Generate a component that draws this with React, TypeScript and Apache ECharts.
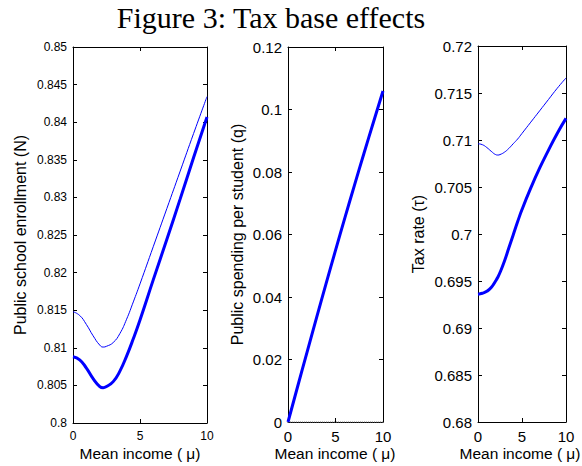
import React, { useEffect, useRef } from "react";
import * as echarts from "echarts";

// ---- data ----
const muPts = [0, 0.5, 1, 1.5, 2, 2.25, 2.5, 3, 3.5, 4, 4.5, 5, 6, 7, 8, 9, 10];
const enrollThin = [0.8148, 0.8143, 0.8131, 0.8116, 0.81035, 0.8101, 0.8102, 0.8107, 0.8119, 0.8138, 0.8161, 0.8185, 0.8235, 0.8285, 0.8335, 0.8385, 0.8434];
const enrollThick = [0.8088, 0.8084, 0.8073, 0.8059, 0.80485, 0.8047, 0.80485, 0.8055, 0.8069, 0.8089, 0.8112, 0.8137, 0.8191, 0.8244, 0.8298, 0.8353, 0.8407];
const taxThin = [0.7096, 0.7095, 0.7092, 0.7088, 0.70845, 0.7084, 0.70845, 0.7087, 0.7091, 0.7096, 0.7101, 0.7107, 0.7119, 0.7131, 0.7143, 0.7155, 0.7166];
const taxThick = [0.6936, 0.6937, 0.6939, 0.6943, 0.695, 0.6954, 0.6959, 0.6971, 0.6985, 0.6999, 0.7013, 0.7026, 0.7049, 0.707, 0.7089, 0.7107, 0.7123];
const muQ = [0, 1, 2, 3, 4, 5, 6, 7, 8, 9, 10];
const spendThick = [0, 0.0112, 0.0223, 0.0333, 0.0442, 0.0549, 0.0655, 0.0758, 0.086, 0.096, 0.1059];
const spendThin = [0, 0, 0, 0, 0, 0, 0, 0, 0, 0, 0];

const xTicks = { min: 0, max: 10, interval: 5 };
const yRanges = [
  { min: 0.8, max: 0.85, interval: 0.005 },
  { min: 0, max: 0.12, interval: 0.02 },
  { min: 0.68, max: 0.72, interval: 0.005 },
];

const title = "Figure 3: Tax base effects";
const xName = "Mean income ( \u03bc)";
const yNames = ["Public school enrollment (N)", "Public spending per student (q)", "Tax rate (\u03c4)"];

const grids = [
  { left: 73, top: 47, width: 134, height: 376 },
  { left: 288, top: 47, width: 95, height: 375 },
  { left: 478, top: 46, width: 88, height: 376 },
];
const tickFont = [12, 15, 15];
const yNameX = [20, 237, 418];
const xNameX = [140, 335, 520];

const pairs = (xs: number[], ys: number[]) => xs.map((x, i) => [x, ys[i]]);
const fmt = (v: number) => String(+v.toFixed(4));

export default function App() {
  const ref = useRef<HTMLDivElement>(null);
  useEffect(() => {
    if (!ref.current) return;
    const chart = echarts.init(ref.current, undefined, { renderer: "svg" });
    const FONT = "Liberation Sans, Arial, sans-serif";
    const xAxis: any[] = [];
    const yAxis: any[] = [];
    grids.forEach((g, i) => {
      const fs = tickFont[i];
      const common = {
        axisLine: { show: true, onZero: false, lineStyle: { color: "#000", width: 1 } },
        axisTick: { show: true, inside: true, length: 4, lineStyle: { color: "#000" } },
        splitLine: { show: false },
      };
      xAxis.push({
        type: "value", gridIndex: i, ...xTicks, position: "bottom", ...common,
        axisLabel: { show: true, color: "#000", fontSize: fs, fontFamily: FONT, margin: 7, formatter: fmt },
      });
      xAxis.push({
        type: "value", gridIndex: i, ...xTicks, position: "top", ...common,
        axisLabel: { show: false },
      });
      yAxis.push({
        type: "value", gridIndex: i, ...yRanges[i], position: "left", ...common,
        axisLabel: { show: true, color: "#000", fontSize: fs, fontFamily: FONT, margin: 6, formatter: fmt },
      });
      yAxis.push({
        type: "value", gridIndex: i, ...yRanges[i], position: "right", ...common,
        axisLabel: { show: false },
      });
    });
    const line = (gi: number, data: number[][], width: number, extra: any = {}) => ({
      type: "line", xAxisIndex: gi * 2, yAxisIndex: gi * 2, data,
      showSymbol: false, symbol: "none", smooth: 0.5, z: 5,
      lineStyle: { color: "#0000ff", width, ...extra },
      clip: false,
    });
    const graphic: any[] = [
      {
        type: "text", x: 271, y: 17,
        style: { text: title, font: "30px 'Liberation Serif', serif", fill: "#000", textAlign: "center", textVerticalAlign: "middle" },
      },
    ];
    grids.forEach((g, i) => {
      graphic.push({
        type: "text", x: xNameX[i], y: 453,
        style: { text: xName, font: `15.5px ${FONT}`, fill: "#000", textAlign: "center", textVerticalAlign: "middle" },
      });
      graphic.push({
        type: "text", x: yNameX[i], y: g.top + g.height / 2, rotation: Math.PI / 2,
        style: { text: yNames[i], font: `16px ${FONT}`, fill: "#000", textAlign: "center", textVerticalAlign: "middle" },
      });
    });
    chart.setOption({
      animation: false,
      backgroundColor: "#fff",
      grid: grids.map((g) => ({ ...g, containLabel: false })),
      xAxis, yAxis,
      graphic,
      series: [
        line(0, pairs(muPts, enrollThin), 1),
        line(0, pairs(muPts, enrollThick), 3),
        line(1, pairs(muQ, spendThin), 1, { color: "#777", type: "dotted" }),
        line(1, pairs(muQ, spendThick), 3),
        line(2, pairs(muPts, taxThin), 1),
        line(2, pairs(muPts, taxThick), 3),
      ],
    });
    return () => chart.dispose();
  }, []);
  return <div ref={ref} style={{ position: "fixed", left: 0, top: 0, width: 582, height: 466 }} />;
}
